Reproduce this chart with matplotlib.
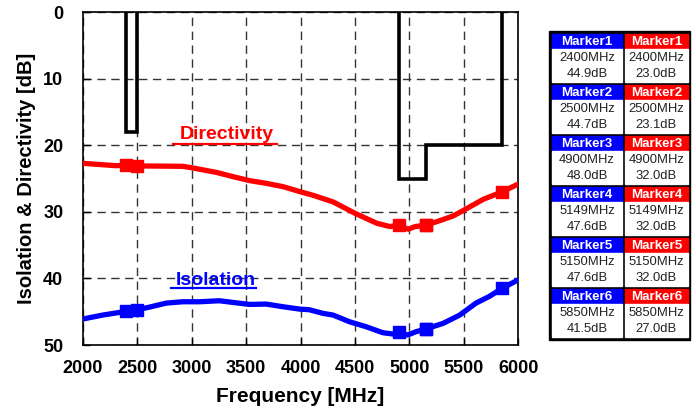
import matplotlib
matplotlib.use("Agg")
import matplotlib.pyplot as plt
from matplotlib.patches import Rectangle

plt.rcParams['font.family'] = ['Liberation Sans', 'DejaVu Sans']

# ---------------- data ----------------
dir_freq = [2000, 2305, 2400, 2500, 2615, 2921, 3013, 3225, 3380, 3533, 3684, 3839,
            4005, 4115, 4300, 4500, 4700, 4822, 4900, 4990, 5052, 5150, 5281, 5403,
            5526, 5679, 5850, 6000]
dir_db = [22.7, 23.05, 23.0, 23.1, 23.1, 23.15, 23.4, 24.05, 24.7, 25.3, 25.7, 26.2,
          27.0, 27.5, 28.5, 30.2, 31.7, 32.2, 32.0, 32.6, 32.2, 32.0, 31.3, 30.6,
          29.5, 28.1, 27.0, 25.8]

iso_freq = [2000, 2184, 2340, 2400, 2500, 2615, 2768, 2921, 3074, 3255, 3378, 3531,
            3684, 3839, 3989, 4081, 4207, 4299, 4449, 4602, 4755, 4847, 4900, 4984,
            5061, 5150, 5309, 5462, 5612, 5734, 5850, 6000]
iso_db = [46.1, 45.5, 45.1, 44.9, 44.7, 44.3, 43.7, 43.5, 43.5, 43.35, 43.6, 43.9,
          43.85, 44.25, 44.6, 44.7, 45.25, 45.5, 46.5, 47.25, 48.15, 48.35, 48.0, 48.5,
          48.0, 47.6, 46.75, 45.5, 43.7, 42.7, 41.5, 40.2]

limit_freq = [2400, 2400, 2500, 2500, None, 4900, 4900, 5150, 5150, 5850, 5850]
limit_db = [0, 18, 18, 0, None, 0, 25, 25, 20, 20, 0]

marker_names = ["Marker1", "Marker2", "Marker3", "Marker4", "Marker5", "Marker6"]
marker_freq = [2400, 2500, 4900, 5149, 5150, 5850]
marker_iso = [44.9, 44.7, 48.0, 47.6, 47.6, 41.5]
marker_dir = [23.0, 23.1, 32.0, 32.0, 32.0, 27.0]

x_ticks = [2000, 2500, 3000, 3500, 4000, 4500, 5000, 5500, 6000]
y_ticks = [0, 10, 20, 30, 40, 50]

# ---------------- figure ----------------
fig = plt.figure(figsize=(6.96, 4.16), dpi=100)
ax = fig.add_axes([82.7 / 696, 1 - 345 / 416, (518.3 - 82.7) / 696, (345 - 12.3) / 416])

ax.set_xlim(2000, 6000)
ax.set_ylim(50, 0)
ax.set_xticks(x_ticks)
ax.set_yticks(y_ticks)
ax.grid(True, color='#333333', linestyle=(0, (6, 4)), linewidth=1.0)
ax.tick_params(direction='in', length=5, width=1, labelsize=13)
ax.tick_params(axis='x', pad=11)
ax.tick_params(axis='y', pad=14)
for lab in ax.get_xticklabels() + ax.get_yticklabels():
    lab.set_fontweight('bold')
for sp in ax.spines.values():
    sp.set_linewidth(1.2)

# limit line
lf = [float('nan') if v is None else v for v in limit_freq]
ld = [float('nan') if v is None else v for v in limit_db]
ax.plot(lf, ld, color='black', linewidth=2.6, solid_joinstyle='miter', zorder=3)

# curves
ax.plot(dir_freq, dir_db, color='red', linewidth=3.8, zorder=4, solid_capstyle='round')
ax.plot(iso_freq, iso_db, color='blue', linewidth=3.8, zorder=4, solid_capstyle='round')

# markers (marker 4/5 overlap)
ax.plot(marker_freq, marker_dir, linestyle='none', marker='s', markersize=8.5,
        color='red', zorder=5)
ax.plot(marker_freq, marker_iso, linestyle='none', marker='s', markersize=8.5,
        color='blue', zorder=5)

# curve labels with underline
ax.text(3325, 18.4, "Directivity", color='red', fontsize=14, fontweight='bold',
        ha='center', va='center', zorder=6)
ax.plot([2830, 3785], [19.8, 19.8], color='red', linewidth=1.6, zorder=6)
ax.text(3225, 40.3, "Isolation", color='blue', fontsize=14, fontweight='bold',
        ha='center', va='center', zorder=6)
ax.plot([2813, 3594], [41.5, 41.5], color='blue', linewidth=1.6, zorder=6)

ax.set_xlabel("Frequency [MHz]", fontsize=15, fontweight='bold', labelpad=7)
ax.set_ylabel("Isolation & Directivity [dB]", fontsize=14.5, fontweight='bold', labelpad=5)

# ---------------- marker table ----------------
tab = fig.add_axes([0, 0, 1, 1], zorder=10)
tab.set_xlim(0, 696)
tab.set_ylim(416, 0)
tab.axis('off')
tab.patch.set_alpha(0)

tx0, tx1, ty0, ty1 = 549, 690, 31, 339.5
tab.add_patch(Rectangle((tx0, ty0), tx1 - tx0, ty1 - ty0, color='black'))
cols = [(551.7, 622.3, 'blue', marker_iso), (625.0, 687.7, 'red', marker_dir)]
pitch = 51.0
for i, name in enumerate(marker_names):
    top = 34.3 + i * pitch
    for (cx0, cx1, col, vals) in cols:
        w = cx1 - cx0
        tab.add_patch(Rectangle((cx0, top), w, 14.7, color=col))
        tab.add_patch(Rectangle((cx0, top + 14.7), w, 32.6, color='white'))
        cxm = (cx0 + cx1) / 2
        tab.text(cxm, top + 7.6, name, color='white', fontsize=9.6, fontweight='bold',
                 ha='center', va='center')
        tab.text(cxm, top + 23.5, f"{marker_freq[i]}MHz", color='#222222', fontsize=9.4,
                 ha='center', va='center')
        tab.text(cxm, top + 40.0, f"{vals[i]:.1f}dB", color='#222222', fontsize=9.4,
                 ha='center', va='center')

fig.savefig("out.png", dpi=100)
